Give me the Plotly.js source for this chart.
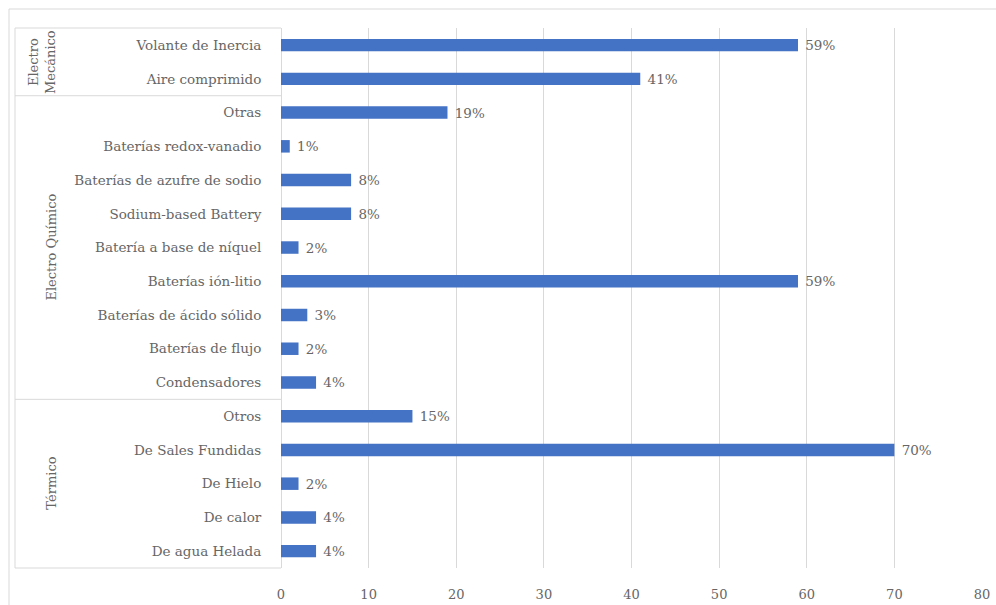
<!DOCTYPE html>
<html>
<head>
<meta charset="utf-8">
<script src="https://cdn.plot.ly/plotly-3.0.1.min.js"></script>
<style>html,body{margin:0;padding:0;background:#fff;}#chart{width:996px;height:605px;}</style>
</head>
<body>
<div id="chart"></div>
<script>
const categories = [
  "Volante de Inercia", "Aire comprimido",
  "Otras", "Baterías redox-vanadio", "Baterías de azufre de sodio", "Sodium-based Battery",
  "Batería a base de níquel", "Baterías ión-litio", "Baterías de ácido sólido", "Baterías de flujo", "Condensadores",
  "Otros", "De Sales Fundidas", "De Hielo", "De calor", "De agua Helada"
];
const values = [59, 41, 19, 1, 8, 8, 2, 59, 3, 2, 4, 15, 70, 2, 4, 4];
const groupNames = ["Electro<br>Mecánico", "Electro Químico", "Térmico"];
const groupStart = [0, 2, 11];
const groupEnd = [1, 10, 15];
const xTicks = [0, 10, 20, 30, 40, 50, 60, 70, 80];

const FONT = "DejaVu Serif, Liberation Serif, serif";
const GRAY = "#666666";
const LINE = "#d9d9d9";

const trace = {
  type: "bar",
  orientation: "h",
  y: categories,
  x: values,
  marker: {color: "#4472C4"},
  text: values.map(v => "\u00a0" + v + "%"),
  textposition: "outside",
  constraintext: "none",
  textfont: {family: FONT, size: 13.5, color: GRAY},
  cliponaxis: false,
  hoverinfo: "skip"
};

const L = 281, R = 14, T = 28, B = 37, W = 996, H = 605;
const pw = W - L - R, ph = H - T - B;
const px = p => (p - L) / pw;
const py = p => (H - B - p) / ph;

const shapes = [];
// outer border
shapes.push({type: "rect", xref: "paper", yref: "paper", x0: px(9), x1: px(1005), y0: py(615), y1: py(9), line: {color: LINE, width: 1}, layer: "below"});
// group box lines
const gx0 = px(15);
shapes.push({type: "line", xref: "paper", yref: "paper", x0: gx0, x1: 0, y0: 1, y1: 1, line: {color: LINE, width: 1}});
shapes.push({type: "line", xref: "paper", yref: "paper", x0: gx0, x1: 0, y0: 0, y1: 0, line: {color: LINE, width: 1}});
shapes.push({type: "line", xref: "paper", yref: "paper", x0: gx0, x1: gx0, y0: 0, y1: 1, line: {color: LINE, width: 1}});
for (let i = 1; i < groupStart.length; i++) {
  const yb = groupStart[i] - 0.5;
  shapes.push({type: "line", xref: "paper", yref: "y", x0: gx0, x1: 0, y0: yb, y1: yb, line: {color: LINE, width: 1}});
}

const gxPix = [42, 52, 52];
const annotations = groupNames.map((g, i) => ({
  text: g,
  xref: "paper", yref: "y",
  x: px(gxPix[i]),
  y: (groupStart[i] + groupEnd[i]) / 2,
  textangle: -90,
  showarrow: false,
  xanchor: "center", yanchor: "middle",
  font: {family: FONT, size: 13, color: GRAY}
}));

const layout = {
  width: W, height: H,
  margin: {l: L, r: R, t: T, b: B, pad: 0},
  paper_bgcolor: "#fff",
  plot_bgcolor: "#fff",
  showlegend: false,
  bargap: 0.63,
  font: {family: FONT, size: 13, color: GRAY},
  xaxis: {
    range: [0, 80],
    tickvals: xTicks,
    ticktext: xTicks.map(String),
    showgrid: true,
    gridcolor: LINE,
    gridwidth: 1,
    zeroline: true,
    zerolinecolor: LINE,
    zerolinewidth: 1,
    showline: false,
    ticks: "outside",
    ticklen: 14,
    tickcolor: "rgba(0,0,0,0)",
    tickfont: {family: FONT, size: 13, color: GRAY},
    fixedrange: true
  },
  yaxis: {
    type: "category",
    categoryorder: "array",
    categoryarray: categories,
    autorange: "reversed",
    showgrid: false,
    zeroline: false,
    showline: false,
    ticks: "outside",
    ticklen: 16,
    tickcolor: "rgba(0,0,0,0)",
    tickfont: {family: FONT, size: 13.5, color: GRAY},
    fixedrange: true
  },
  shapes: shapes,
  annotations: annotations
};

Plotly.newPlot("chart", [trace], layout, {displayModeBar: false, staticPlot: true});
</script>
</body>
</html>
